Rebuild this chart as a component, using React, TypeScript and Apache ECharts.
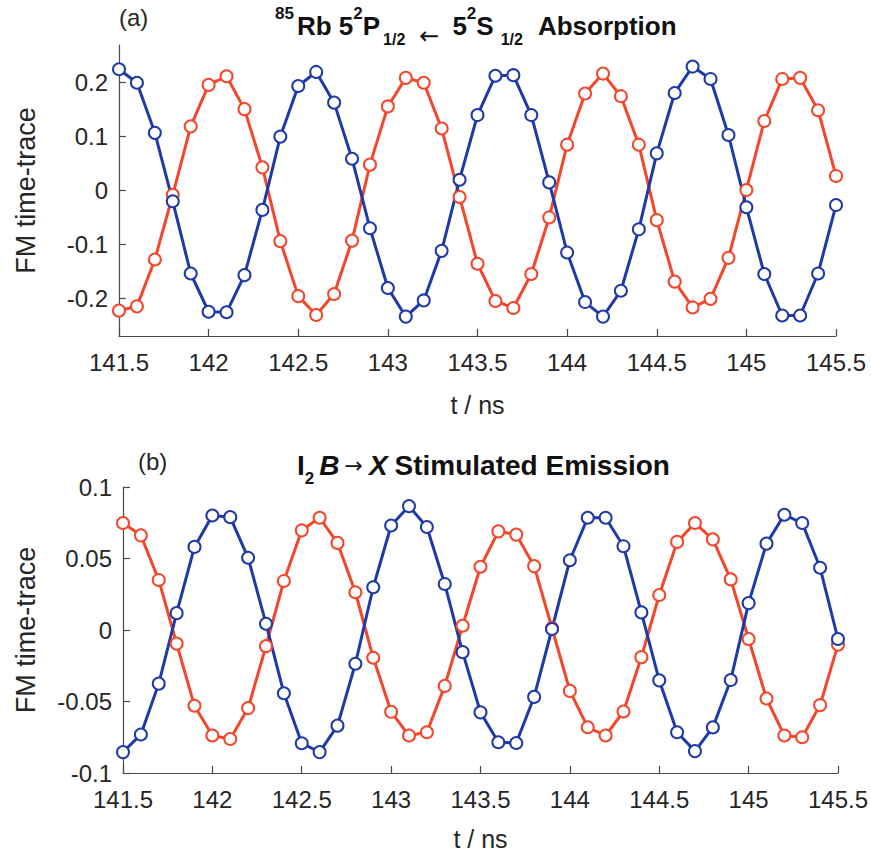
import React, { useEffect, useRef } from "react";
import * as echarts from "echarts";

const timeNs = [
  141.5, 141.6, 141.7, 141.8, 141.9, 142.0, 142.1, 142.2, 142.3, 142.4,
  142.5, 142.6, 142.7, 142.8, 142.9, 143.0, 143.1, 143.2, 143.3, 143.4,
  143.5, 143.6, 143.7, 143.8, 143.9, 144.0, 144.1, 144.2, 144.3, 144.4,
  144.5, 144.6, 144.7, 144.8, 144.9, 145.0, 145.1, 145.2, 145.3, 145.4,
  145.5,
];

const rbBlue = [
  0.225, 0.2, 0.107, -0.02, -0.154, -0.225, -0.226, -0.157, -0.036, 0.1,
  0.194, 0.22, 0.163, 0.059, -0.07, -0.181, -0.234, -0.204, -0.112, 0.02,
  0.14, 0.213, 0.214, 0.14, 0.015, -0.115, -0.207, -0.234, -0.186, -0.072,
  0.069, 0.181, 0.23, 0.207, 0.103, -0.031, -0.155, -0.232, -0.232, -0.154,
  -0.027,
];

const rbRed = [
  -0.223, -0.215, -0.128, -0.008, 0.119, 0.196, 0.212, 0.151, 0.043, -0.094,
  -0.196, -0.231, -0.192, -0.093, 0.048, 0.156, 0.209, 0.2, 0.115, -0.012,
  -0.136, -0.205, -0.218, -0.155, -0.05, 0.085, 0.18, 0.217, 0.175, 0.085,
  -0.055, -0.169, -0.217, -0.201, -0.125, 0.001, 0.129, 0.207, 0.209, 0.149,
  0.027,
];

const i2Blue = [
  -0.0854, -0.0731, -0.0375, 0.0118, 0.0581, 0.0801, 0.0789, 0.0505, 0.0044, -0.0442,
  -0.0792, -0.0854, -0.0669, -0.0236, 0.0299, 0.0731, 0.0866, 0.072, 0.0322, -0.0155,
  -0.0576, -0.0785, -0.079, -0.0468, 0.0007, 0.0488, 0.0785, 0.0785, 0.0586, 0.0123,
  -0.0352, -0.0715, -0.0847, -0.0681, -0.035, 0.0188, 0.0604, 0.0806, 0.0748, 0.0435,
  -0.0063,
];

const i2Red = [
  0.0748, 0.0662, 0.035, -0.0095, -0.053, -0.0738, -0.0762, -0.0546, -0.0113, 0.0343,
  0.0697, 0.0785, 0.0609, 0.0264, -0.0194, -0.0572, -0.0738, -0.0715, -0.0391, 0.003,
  0.0442, 0.069, 0.0667, 0.0447, 0.0014, -0.0426, -0.068, -0.0738, -0.057, -0.019,
  0.0245, 0.0616, 0.0748, 0.0634, 0.0354, -0.0063, -0.0479, -0.0738, -0.075, -0.0525,
  -0.0102,
];

const yTicksA = [-0.2, -0.1, 0, 0.1, 0.2];
const yTicksB = [-0.1, -0.05, 0, 0.05, 0.1];

const BLUE = "#1f3aa8";
const RED = "#f4462a";
const AXIS = "#4a4a4a";
const TEXT = "#262626";
const FONT = "'Liberation Sans', Arial, Helvetica, sans-serif";

function pairs(xs: number[], ys: number[]) {
  return xs.map((x, i) => [x, ys[i]]);
}

export default function App() {
  const ref = useRef<HTMLDivElement>(null);
  useEffect(() => {
    if (!ref.current) return;
    const chart = echarts.init(ref.current, undefined, { renderer: "svg" });

    const xAxisBase = (gridIndex: number, nameGap: number) => ({
      type: "value",
      gridIndex,
      min: 141.5,
      max: 145.5,
      interval: 0.5,
      name: "t / ns",
      nameLocation: "middle",
      nameGap,
      nameTextStyle: { fontSize: 25, color: TEXT, fontFamily: FONT },
      axisLine: { show: true, onZero: false, lineStyle: { color: AXIS, width: 1.2 } },
      axisTick: { show: true, inside: true, length: 7, lineStyle: { color: AXIS, width: 1.2 } },
      axisLabel: {
        show: true,
        margin: 14,
        fontSize: 24,
        color: TEXT,
        fontFamily: FONT,
        formatter: (v: number) => String(v),
      },
      splitLine: { show: false },
    });

    const yAxisBase = (gridIndex: number, min: number, max: number, ticks: number[], nameGap: number) => ({
      type: "value",
      gridIndex,
      min,
      max,
      name: "FM time-trace",
      nameLocation: "middle",
      nameGap,
      nameTextStyle: { fontSize: 27, color: TEXT, fontFamily: FONT },
      axisLine: { show: true, onZero: false, lineStyle: { color: AXIS, width: 1.2 } },
      axisTick: {
        show: true,
        inside: true,
        length: 7,
        customValues: ticks,
        lineStyle: { color: AXIS, width: 1.2 },
      },
      axisLabel: {
        show: true,
        margin: 11,
        fontSize: 24,
        color: TEXT,
        fontFamily: FONT,
        customValues: ticks,
        formatter: (v: number) => String(v),
      },
      splitLine: { show: false },
    });

    const lineSeries = (name: string, color: string, data: number[], idx: number) => ({
      name,
      type: "line",
      xAxisIndex: idx,
      yAxisIndex: idx,
      data: pairs(timeNs, data),
      symbol: "emptyCircle",
      symbolSize: 12,
      showSymbol: true,
      lineStyle: { color, width: 3 },
      itemStyle: { color, borderColor: color, borderWidth: 2.8 },
      emphasis: { disabled: true },
    });

    const base = { fontFamily: FONT, color: "#111", fontWeight: "bold" };
    const mk = (size: number, extra: any) => ({ ...base, fontSize: size, lineHeight: 43, verticalAlign: "middle", ...extra });
    const sub = (size: number, padLeft: number) => ({
      ...base, fontSize: size, lineHeight: 12, verticalAlign: "bottom", padding: [0, 0, 0, padLeft],
    });
    const arrowStyle = {
      fontWeight: "normal", fontFamily: "'DejaVu Sans', sans-serif", color: "#111",
    };
    const richA = {
      m: mk(26, {}),
      m3: mk(26, { padding: [0, 0, 0, 3] }),
      ab: mk(26, { padding: [0, 0, 0, 15] }),
      sup: { ...base, fontSize: 17, lineHeight: 17, verticalAlign: "top" },
      subP: sub(16, 3),
      subS: sub(16, 7),
      arr: { ...arrowStyle, fontSize: 24, lineHeight: 30, verticalAlign: "bottom", padding: [0, 13, 0, 14] },
    };
    const richB = {
      m: mk(28, {}),
      it: mk(28, { fontStyle: "italic" }),
      itB: mk(28, { fontStyle: "italic", padding: [0, 0, 0, 5] }),
      st: mk(28, { padding: [0, 0, 0, 7] }),
      sub2: sub(17, 0),
      arr: { ...arrowStyle, fontSize: 22, lineHeight: 43, verticalAlign: "middle", padding: [0, 6, 0, 5] },
    };

    chart.setOption({
      animation: false,
      backgroundColor: "#ffffff",
      title: [
        {
          text: "{sup|85}{m3|Rb 5}{sup|2}{m|P}{subP|1/2}{arr|←}{m|5}{sup|2}{m|S}{subS|1/2}{ab|Absorption}",
          left: 275,
          top: 4.5,
          padding: 0,
          textStyle: { rich: richA },
        },
        {
          text: "{m|I}{sub2|2}{itB|B}{arr|→}{it|X}{st|Stimulated Emission}",
          left: 297,
          top: 443.5,
          padding: 0,
          textStyle: { rich: richB },
        },
      ],
      graphic: [
        {
          type: "text",
          left: 119,
          top: 5,
          style: { text: "(a)", fontSize: 24, fill: TEXT, fontFamily: FONT },
        },
        {
          type: "text",
          left: 138,
          top: 449,
          style: { text: "(b)", fontSize: 24, fill: TEXT, fontFamily: FONT },
        },
      ],
      grid: [
        { left: 119, right: 35, top: 45, height: 291, containLabel: false },
        { left: 123, right: 33, top: 487, height: 286, containLabel: false },
      ],
      xAxis: [xAxisBase(0, 56), xAxisBase(1, 53)],
      yAxis: [
        yAxisBase(0, -0.27, 0.27, yTicksA, 80),
        yAxisBase(1, -0.1, 0.1, yTicksB, 84),
      ],
      series: [
        lineSeries("Rb red", RED, rbRed, 0),
        lineSeries("Rb blue", BLUE, rbBlue, 0),
        lineSeries("I2 red", RED, i2Red, 1),
        lineSeries("I2 blue", BLUE, i2Blue, 1),
      ],
    });
    return () => chart.dispose();
  }, []);

  return (
    <div
      ref={ref}
      style={{ position: "fixed", left: 0, top: 0, width: 871, height: 858, background: "#fff" }}
    />
  );
}
